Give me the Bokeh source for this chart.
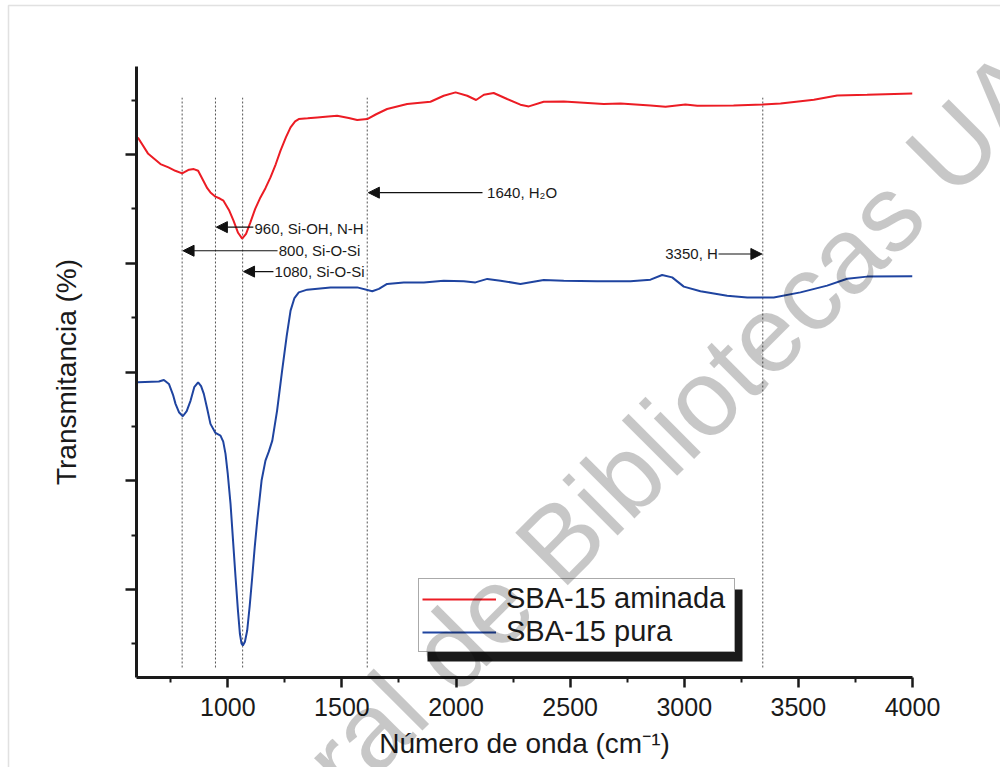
import math
from bokeh.plotting import figure
from bokeh.models import (Range1d, FixedTicker, Legend, LegendItem, Arrow, NormalHead,
                          BoxAnnotation, ColumnDataSource)
from bokeh.core.properties import value
from bokeh.embed import file_html
from bokeh.resources import INLINE

# ---------------- data ----------------
red_x = [606, 650, 705, 740, 770, 800, 830, 851, 870, 890, 910, 924, 946, 965, 981, 1005,
         1025, 1045, 1063, 1080, 1099, 1120, 1143, 1165, 1187, 1210, 1231, 1255, 1275, 1295,
         1311, 1350, 1392, 1440, 1479, 1530, 1567, 1611, 1650, 1698, 1786, 1888, 1946, 1998,
         2049, 2088, 2122, 2165, 2224, 2282, 2319, 2384, 2472, 2560, 2647, 2721, 2852, 2918,
         3005, 3057, 3216, 3344, 3422, 3568, 3670, 3801, 4000]
red_y = [51.57, 50.10, 49.12, 48.81, 48.50, 48.26, 48.60, 48.66, 48.50, 47.70, 46.90, 46.51,
         46.12, 45.95, 45.75, 44.90, 43.91, 42.80, 42.26, 42.70, 43.76, 45.00, 46.05, 46.90,
         47.89, 49.10, 50.35, 51.60, 52.49, 53.05, 53.26, 53.33, 53.41, 53.50, 53.56, 53.35,
         53.17, 53.26, 53.70, 54.18, 54.64, 54.85, 55.40, 55.71, 55.40, 55.01, 55.49, 55.65,
         55.10, 54.58, 54.42, 54.85, 54.88, 54.76, 54.64, 54.69, 54.51, 54.39, 54.60, 54.48,
         54.51, 54.60, 54.69, 55.04, 55.43, 55.49, 55.61]

blue_x = [606, 698, 720, 742, 760, 771, 786, 803, 820, 837, 853, 870, 883, 895, 910, 924, 946,
          968, 980, 990, 1000, 1012, 1023, 1034, 1044, 1053, 1060, 1066, 1075, 1085, 1096,
          1107, 1118, 1129, 1148, 1165, 1180, 1195, 1216, 1238, 1258, 1275, 1292, 1311, 1348,
          1450, 1567, 1633, 1662, 1698, 1771, 1859, 1946, 2034, 2085, 2137, 2195, 2282, 2384,
          2472, 2618, 2764, 2852, 2903, 2947, 2998, 3071, 3188, 3276, 3392, 3509, 3626, 3714,
          3801, 4000]
blue_y = [29.05, 29.12, 29.27, 28.90, 27.90, 27.07, 26.30, 25.93, 26.40, 27.37, 28.60, 29.05,
          28.70, 27.99, 26.60, 25.23, 24.40, 24.15, 23.60, 22.47, 20.60, 17.88, 14.50, 11.13,
          8.20, 5.93, 5.05, 4.85, 5.20, 6.23, 8.50, 11.13, 13.90, 16.34, 20.02, 21.85, 22.70,
          23.69, 26.45, 30.13, 33.30, 35.64, 36.80, 37.32, 37.57, 37.78, 37.78, 37.42, 37.64,
          38.10, 38.22, 38.24, 38.40, 38.34, 38.24, 38.56, 38.40, 38.10, 38.46, 38.40, 38.34,
          38.34, 38.49, 38.92, 38.70, 37.85, 37.42, 37.02, 36.86, 36.86, 37.32, 37.94, 38.58,
          38.77, 38.80]

series_names = ["SBA-15 aminada", "SBA-15 pura"]
series_colors = ["#ec1c24", "#1f44a0"]

x_major = [1000, 1500, 2000, 2500, 3000, 3500, 4000]
x_minor = [750, 1250, 1750, 2250, 2750, 3250, 3750]
y_major = [10, 20, 30, 40, 50]
y_minor = [5, 15, 25, 35, 45, 55]

# reference (dotted) lines
ref_x = [800, 946, 1065, 1611, 3344]
ref_y0 = 2.83
ref_y1 = 55.22

# annotations: text, text x, text y, alignment, arrow start x, arrow end x, arrow y
ann_text = ["960, Si-OH, N-H", "800, Si-O-Si", "1080, Si-O-Si", "1640, H\u2082O", "3350, H"]
ann_tx = [1117, 1223, 1205, 2136, 3147]
ann_ty = [43.18, 41.15, 39.23, 46.49, 40.85]
ann_align = ["left", "left", "left", "left", "right"]
arr_x0 = [1112, 1218, 1200, 2116, 3150]
arr_x1 = [950, 804, 1069, 1616, 3340]
arr_y = [43.32, 41.15, 39.23, 46.49, 40.85]

watermark = "Direcci\u00f3n General de Bibliotecas UAQ"

FONT = "Liberation Sans"
TXT = "#1a1a1a"

p = figure(width=1000, height=767, output_backend="svg", toolbar_location=None,
           x_range=Range1d(600, 4000), y_range=Range1d(1.91, 58.09),
           min_border_left=136, min_border_right=88, min_border_top=66,
           min_border_bottom=90)
p.outline_line_color = None
p.grid.visible = False
p.background_fill_color = "white"
p.border_fill_color = "white"

# axes
for ax in (p.xaxis[0], p.yaxis[0]):
    ax.axis_line_width = 3
    ax.axis_line_color = TXT
    ax.major_tick_line_width = 2.5
    ax.minor_tick_line_width = 2
    ax.major_tick_line_color = TXT
    ax.minor_tick_line_color = TXT
    ax.major_tick_in = 0
    ax.minor_tick_in = 0
    ax.major_tick_out = 10
    ax.minor_tick_out = 5
    ax.axis_label_text_font = FONT
    ax.axis_label_text_font_style = "normal"
    ax.axis_label_text_font_size = "28px"
    ax.axis_label_text_color = TXT
    ax.major_label_text_font = FONT
    ax.major_label_text_color = TXT

p.xaxis.ticker = FixedTicker(ticks=x_major, minor_ticks=x_minor)
p.xaxis.major_label_text_font_size = "25px"
p.xaxis.major_label_standoff = 10
p.xaxis.axis_label = "N\u00famero de onda (cm\u207b\u00b9)"
p.xaxis.axis_label_standoff = 9

p.yaxis.ticker = FixedTicker(ticks=y_major, minor_ticks=y_minor)
p.yaxis.major_tick_out = 11
p.yaxis.major_label_text_font_size = "24px"
p.yaxis.major_label_text_color = None
p.yaxis.major_label_standoff = 0
p.yaxis.axis_label = "Transmitancia (%)"
p.yaxis.axis_label_standoff = 44

# reference dotted lines
p.segment(x0=ref_x, x1=ref_x, y0=[ref_y0] * len(ref_x), y1=[ref_y1] * len(ref_x),
          line_color="#555555", line_width=1, line_dash="2 2")

# curves
r_red = p.line(red_x, red_y, line_color=series_colors[0], line_width=2)
r_blue = p.line(blue_x, blue_y, line_color=series_colors[1], line_width=2)

# annotation arrows and texts
for i in range(len(ann_text)):
    p.add_layout(Arrow(end=NormalHead(size=11, fill_color="#111111", line_color="#111111",
                                      line_width=1),
                       x_start=arr_x0[i], y_start=arr_y[i], x_end=arr_x1[i], y_end=arr_y[i],
                       line_color="#111111", line_width=1.2))
src = ColumnDataSource(dict(x=ann_tx, y=ann_ty, t=ann_text, a=ann_align))
p.text(x="x", y="y", text="t", text_align="a", source=src, text_baseline="middle",
       text_font=value(FONT), text_font_size="15px", text_color=TXT)

# legend shadow box
p.add_layout(BoxAnnotation(left=427, right=742, top=589, bottom=661,
                           left_units="canvas", right_units="canvas",
                           top_units="canvas", bottom_units="canvas",
                           fill_color=TXT, fill_alpha=1, line_color=None,
                           level="annotation"))

legend = Legend(items=[LegendItem(label=series_names[0], renderers=[r_red]),
                       LegendItem(label=series_names[1], renderers=[r_blue])],
                location=(282, 25))
legend.label_text_font = FONT
legend.label_text_font_size = "29px"
legend.label_text_color = TXT
legend.glyph_width = 74
legend.glyph_height = 30
legend.label_height = 30
legend.label_width = 225
legend.label_standoff = 10
legend.spacing = 0
legend.padding = 3
legend.margin = 0
legend.border_line_color = "#555555"
legend.border_line_width = 1
legend.background_fill_color = "white"
legend.background_fill_alpha = 1
p.add_layout(legend, "center")

# transparent overlay canvas for page border and watermark
wm = figure(width=1000, height=767, output_backend="svg", toolbar_location=None,
            x_range=Range1d(0, 1000), y_range=Range1d(767, 0),
            x_axis_location=None, y_axis_location=None, min_border=0)
wm.outline_line_color = None
wm.grid.visible = False
wm.background_fill_alpha = 0
wm.border_fill_alpha = 0
wm.add_layout(BoxAnnotation(left=8, right=1010, top=5, bottom=800, fill_alpha=0,
                            line_color="#9a9a9a", line_width=1.5))
wm.text(x=[-204], y=[1303], text=[watermark], angle=math.pi / 4,
        text_font=value(FONT), text_font_size="108px", text_color="black",
        text_alpha=0.22, text_baseline="alphabetic", text_align="left")
wm.styles = {"position": "absolute", "left": "0px", "top": "0px",
             "pointer-events": "none"}

open("out.html", "w").write(file_html([p, wm], INLINE))
